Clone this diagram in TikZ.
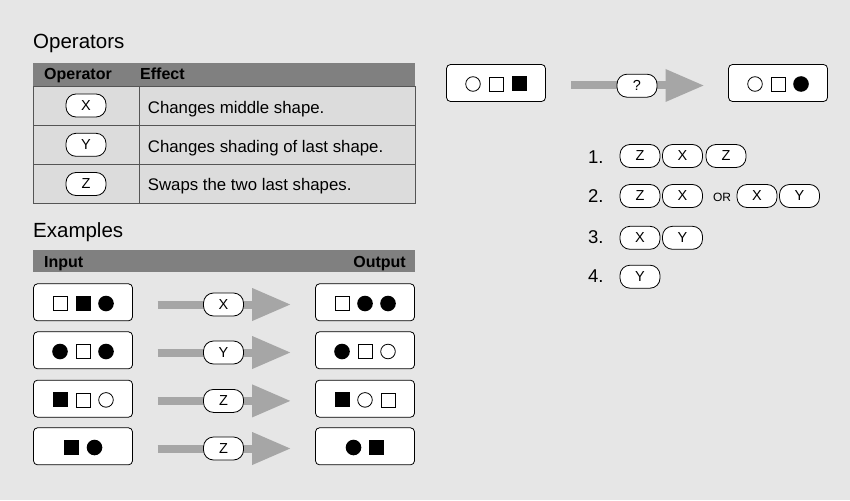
\documentclass[tikz,border=0pt]{standalone}
\usepackage{fontspec}
\setmainfont{Liberation Sans}
\definecolor{bg}{HTML}{E6E6E6}
\definecolor{hdr}{HTML}{808080}
\definecolor{cell}{HTML}{DCDCDC}
\definecolor{rule}{HTML}{555555}
\definecolor{arr}{HTML}{A6A6A6}
\tikzset{
  pill/.style={draw=black, line width=0.8pt, fill=white, rounded corners=10pt,
    minimum width=40pt, minimum height=23pt, inner sep=0pt,
    font=\fontsize{14.5}{16}\selectfont},
  seqbox/.style={draw=black, line width=0.8pt, fill=white, rounded corners=4pt,
    minimum width=99pt, minimum height=37pt, inner sep=0pt},
  title/.style={anchor=base west, inner sep=0pt, font=\fontsize{20.5}{24}\selectfont},
  hdrtxt/.style={inner sep=0pt, font=\bfseries\fontsize{16}{18}\selectfont},
  body/.style={anchor=base west, inner sep=0pt, font=\fontsize{16.8}{20}\selectfont},
  num/.style={anchor=base west, inner sep=0pt, font=\fontsize{18.5}{22}\selectfont},
  pics/osq/.style={code={\draw[line width=0.8pt, fill=white] (-7,-7) rectangle (7,7);}},
  pics/fsq/.style={code={\fill[black] (-7.5,-7.5) rectangle (7.5,7.5);}},
  pics/ocir/.style={code={\draw[line width=0.8pt, fill=white] (0,0) circle (7.3);}},
  pics/fcir/.style={code={\fill[black] (0,0) circle (7.8);}},
}
\newcommand{\grayarrow}[3]{% name, start x, y
  \coordinate (#1s) at (#2,#3);
  \coordinate (#1e) at (#2+96,#3);
  \draw[arr, line width=8pt] (#1s) -- (#1e);
  \fill[arr] (#2+94.5,#3-16.5) -- (#2+132.5,#3) -- (#2+94.5,#3+16.5) -- cycle;
}
\begin{document}
\begin{tikzpicture}[x=1pt, y=-1pt]
\useasboundingbox (0,0) rectangle (850,500);
\fill[bg] (0,0) rectangle (850,500);

% ---------- Operators ----------
\node[title] (optitle) at (33,48.3) {Operators};
\fill[hdr] (33,63.5) rectangle (415,86);
\fill[cell] (33,86) rectangle (415,203.5);
\draw[rule, line width=0.8pt] (33,86) -- (415,86);
\draw[rule, line width=0.8pt] (33,125.5) -- (415,125.5);
\draw[rule, line width=0.8pt] (33,164.7) -- (415,164.7);
\draw[rule, line width=0.8pt] (33,86) rectangle (415,203.5);
\draw[rule, line width=0.8pt] (139.3,86) -- (139.3,203.5);
\node[hdrtxt, anchor=base west] (hop) at (44,80) {Operator};
\node[hdrtxt, anchor=base west] (hef) at (140,80) {Effect};

\node[pill] (opx) at (86,105.5) {X};
\node[pill] (opy) at (86,144.8) {Y};
\node[pill] (opz) at (86,184) {Z};
\node[body] (efx) at (147.7,113.3) {Changes middle shape.};
\node[body] (efy) at (147.7,152.3) {Changes shading of last shape.};
\node[body] (efz) at (147.7,190.7) {Swaps the two last shapes.};

% ---------- Examples ----------
\node[title] (extitle) at (33,237.7) {Examples};
\fill[hdr] (33,250) rectangle (415,272.3);
\node[hdrtxt, anchor=base west] (hin) at (44,267.3) {Input};
\node[hdrtxt, anchor=base east] (hout) at (406,267.3) {Output};

% row 1
\node[seqbox] (in1) at (83,302.3) {};
\pic at (60,303.5) {osq}; \pic at (83,303.5) {fsq}; \pic at (106,303.5) {fcir};
\grayarrow{a1}{157.7}{304.5}
\node[pill] (p1) at (223.5,304.5) {X};
\node[seqbox] (out1) at (365,302.3) {};
\pic at (342,303.5) {osq}; \pic at (365,303.5) {fcir}; \pic at (388,303.5) {fcir};

% row 2
\node[seqbox] (in2) at (83,350.3) {};
\pic at (60,351.5) {fcir}; \pic at (83,351.5) {osq}; \pic at (106,351.5) {fcir};
\grayarrow{a2}{157.7}{352.5}
\node[pill] (p2) at (223.5,352.5) {Y};
\node[seqbox] (out2) at (365,350.3) {};
\pic at (342,351.5) {fcir}; \pic at (365,351.5) {osq}; \pic at (388,351.5) {ocir};

% row 3
\node[seqbox] (in3) at (83,398.7) {};
\pic at (60,399.9) {fsq}; \pic at (83,399.9) {osq}; \pic at (106,399.9) {ocir};
\grayarrow{a3}{157.7}{400.9}
\node[pill] (p3) at (223.5,400.9) {Z};
\node[seqbox] (out3) at (365,398.7) {};
\pic at (342,399.9) {fsq}; \pic at (365,399.9) {ocir}; \pic at (388,399.9) {osq};

% row 4
\node[seqbox] (in4) at (83,446.3) {};
\pic at (71.5,447.5) {fsq}; \pic at (94.5,447.5) {fcir};
\grayarrow{a4}{157.7}{448.5}
\node[pill] (p4) at (223.5,448.5) {Z};
\node[seqbox] (out4) at (365,446.3) {};
\pic at (353.5,447.5) {fcir}; \pic at (376.5,447.5) {fsq};

% ---------- Question ----------
\node[seqbox] (qin) at (496,83) {};
\pic at (473,84) {ocir}; \pic at (496,84) {osq}; \pic at (519,84) {fsq};
\grayarrow{qa}{571}{85.5}
\node[pill] (qp) at (637,85.7) {?};
\node[seqbox] (qout) at (778,83) {};
\pic at (755,84) {ocir}; \pic at (778,84) {osq}; \pic at (801,84) {fcir};

% ---------- Answers ----------
\node[num] (n1) at (588,163.3) {1.};
\node[pill] (a1z) at (640,156) {Z};
\node[pill] (a1x) at (682.5,156) {X};
\node[pill] (a1z2) at (726,156) {Z};

\node[num] (n2) at (588,202.7) {2.};
\node[pill] (a2z) at (640,196) {Z};
\node[pill] (a2x) at (682.5,196) {X};
\node[inner sep=0pt, font=\fontsize{12}{13}\selectfont] (or) at (722,197) {OR};
\node[pill] (a2x2) at (757,196) {X};
\node[pill] (a2y) at (799.5,196) {Y};

\node[num] (n3) at (588,243.6) {3.};
\node[pill] (a3x) at (640,237.8) {X};
\node[pill] (a3y) at (682.5,237.8) {Y};

\node[num] (n4) at (588,282.6) {4.};
\node[pill] (a4y) at (640,276.7) {Y};
\end{tikzpicture}
\end{document}
